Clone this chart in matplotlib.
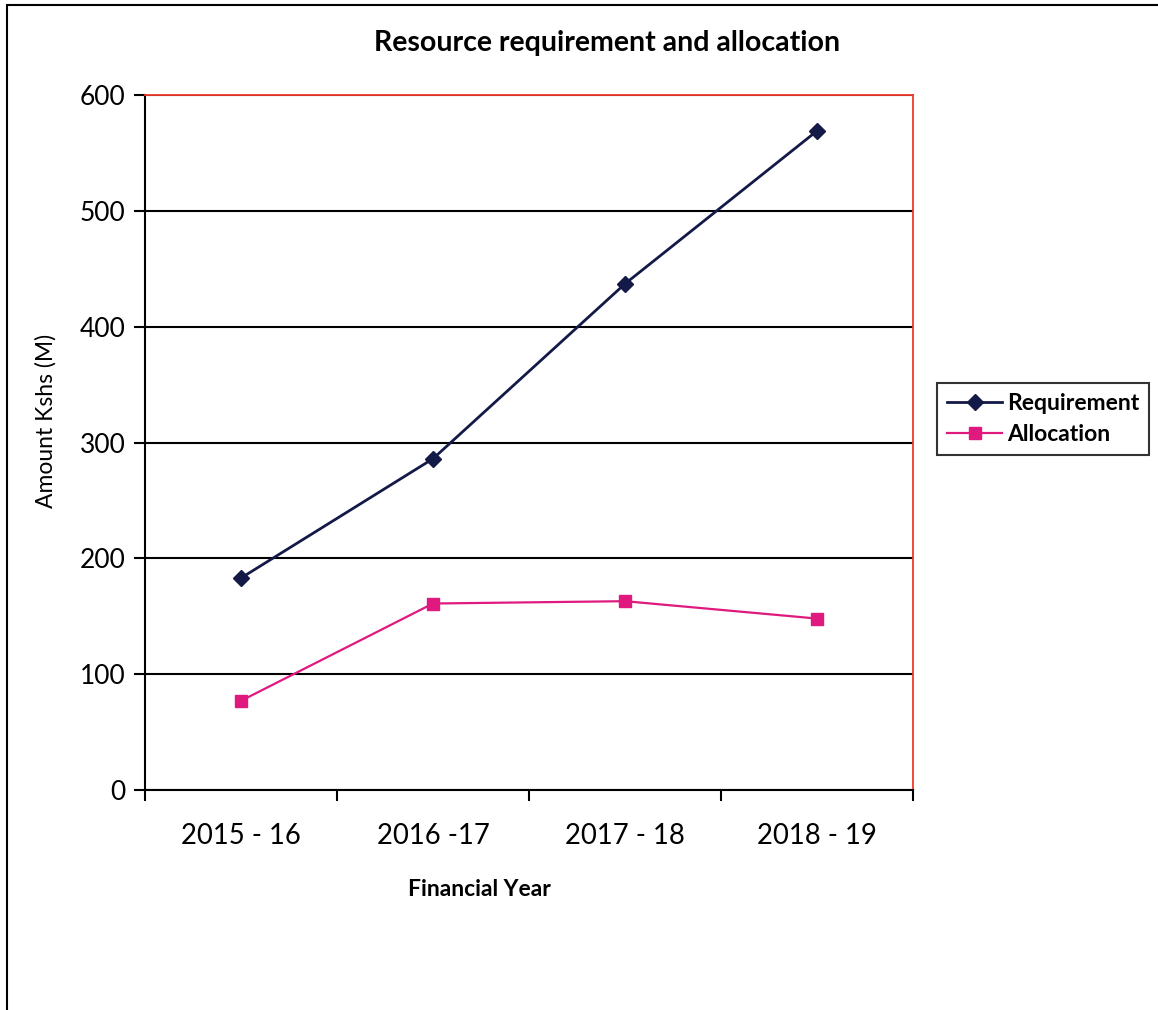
import numpy as np
import matplotlib
matplotlib.use("Agg")
import matplotlib.pyplot as plt
from matplotlib.patches import Rectangle

years = ["2015 - 16", "2016 -17", "2017 - 18", "2018 - 19"]
requirement = [183, 286, 437, 569]
allocation = [77, 161, 163, 148]
yticks = [0, 100, 200, 300, 400, 500, 600]

plt.rcParams["font.family"] = ["Lato", "DejaVu Sans"]

fig = plt.figure(figsize=(11.58, 10.10), dpi=100)
ax = fig.add_axes([145/1158, 1 - 790/1010, 768/1158, 695/1010])

x = np.arange(len(years))
ax.plot(x, requirement, "-", color="#141a48", lw=2, marker="D", ms=8,
        label="Requirement")
ax.plot(x, allocation, "-", color="#e0197f", lw=1.6, marker="s", ms=9,
        label="Allocation")

ax.set_xlim(-0.5, len(years) - 0.5)
ax.set_ylim(0, 600)
ax.set_yticks(yticks)
ax.set_yticklabels([str(v) for v in yticks], fontsize=19)
ax.set_xticks(x)
ax.set_xticklabels(years, fontsize=19.8)
ax.set_xticks(np.arange(-0.5, len(years)), minor=True)
ax.tick_params(axis="x", which="major", length=0, pad=24)
ax.tick_params(axis="x", which="minor", length=8, width=1.5, direction="out")
ax.tick_params(axis="y", length=8, width=1.5, direction="out", pad=6)
ax.yaxis.grid(True, color="black", lw=1.5)
ax.set_axisbelow(True)

for s in ("top", "right"):
    ax.spines[s].set_color("#f03a2a")
    ax.spines[s].set_linewidth(1.3)
for s in ("left", "bottom"):
    ax.spines[s].set_color("black")
    ax.spines[s].set_linewidth(1.5)

# axis titles placed where the original chart has them
fig.text(479/1158, 1 - 890/1010, "Financial Year", ha="center", va="center",
         fontsize=16.5, fontweight="bold")
fig.text(46/1158, 1 - 421/1010, "Amount Kshs (M)", ha="center", va="center",
         rotation=90, fontsize=16.5)
fig.text(607/1158, 1 - 43/1010, "Resource requirement and allocation",
         ha="center", va="center", fontsize=20.5, fontweight="bold")

leg = ax.legend(loc="center left", bbox_to_anchor=(937/1158, 1 - 419/1010),
                bbox_transform=fig.transFigure, frameon=True, fancybox=False,
                edgecolor="black", fontsize=16.5, handlelength=2.4,
                borderpad=0.45, labelspacing=0.45, handletextpad=0.2,
                borderaxespad=0)
leg.get_frame().set_linewidth(1.5)
for t in leg.get_texts():
    t.set_fontweight("bold")

# outer chart border
fig.patches.append(Rectangle((7/1158, -0.05), 1.1, 1 - 5/1010 + 0.05,
                             transform=fig.transFigure, fill=False,
                             edgecolor="black", lw=1.5))

fig.savefig("out.png", dpi=100)
